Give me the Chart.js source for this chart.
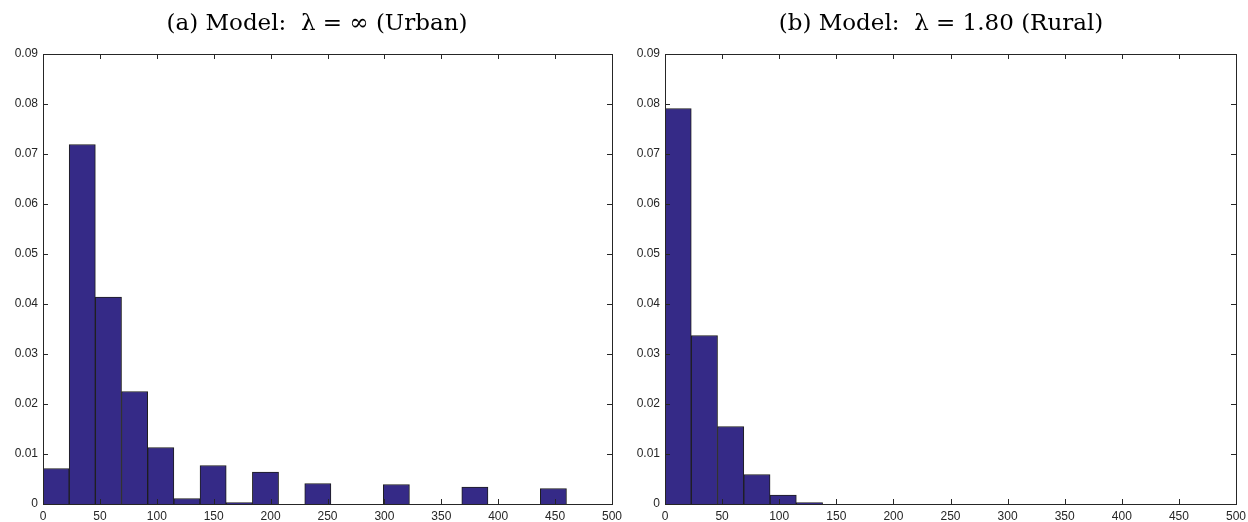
<!DOCTYPE html>
<html>
<head>
<meta charset="utf-8">
<script src="https://cdn.jsdelivr.net/npm/chart.js@4"></script>
<style>
  body { margin: 0; background: #fff; }
  #wrap { width: 1248px; height: 522px; display: flex; }
  canvas { display: block; }
</style>
</head>
<body>
<div id="wrap">
  <canvas id="urban" width="624" height="522"></canvas>
  <canvas id="rural" width="624" height="522"></canvas>
</div>
<script>
// histogram bins, width 23, centres
const binCenters = [11.5, 34.5, 57.5, 80.5, 103.5, 126.5, 149.5, 172.5, 195.5, 218.5,
                    241.5, 264.5, 287.5, 310.5, 333.5, 356.5, 379.5, 402.5, 425.5, 448.5];
const urbanValues = [0.0071, 0.0719, 0.0414, 0.0225, 0.0113, 0.0011, 0.0077, 0.0003, 0.0064, 0,
                     0.0041, 0, 0, 0.0039, 0, 0, 0.0034, 0, 0, 0.0031];
const ruralValues = [0.0791, 0.0337, 0.0155, 0.0059, 0.0018, 0.0003, 0, 0, 0, 0,
                     0, 0, 0, 0, 0, 0, 0, 0, 0, 0];
const xTicks = [0, 50, 100, 150, 200, 250, 300, 350, 400, 450, 500];
const yTicks = [0, 0.01, 0.02, 0.03, 0.04, 0.05, 0.06, 0.07, 0.08, 0.09];
const titles = ['(a) Model:  \u03BB = \u221E (Urban)', '(b) Model:  \u03BB = 1.80 (Rural)'];

const axisColor = '#262626';

// MATLAB style box with inward ticks on all four sides
const boxTicks = {
    id: 'boxTicks',
    afterLayout(chart) {
        // nudge the title over the plot area like the original figure
        if (chart.titleBlock) {
            chart.titleBlock.left += 11;
            chart.titleBlock.right += 11;
        }
    },
    afterDraw(chart) {
        const ctx = chart.ctx;
        const a = chart.chartArea;
        const xs = chart.scales.x, ys = chart.scales.y;
        const len = 5;
        ctx.save();
        ctx.strokeStyle = axisColor;
        ctx.lineWidth = 1;
        ctx.beginPath();
        xTicks.forEach(v => {
            const px = Math.round(xs.getPixelForValue(v)) + 0.5;
            ctx.moveTo(px, a.bottom); ctx.lineTo(px, a.bottom - len);
            ctx.moveTo(px, a.top); ctx.lineTo(px, a.top + len);
        });
        yTicks.forEach(v => {
            const py = Math.round(ys.getPixelForValue(v)) + 0.5;
            ctx.moveTo(a.left, py); ctx.lineTo(a.left + len, py);
            ctx.moveTo(a.right, py); ctx.lineTo(a.right - len, py);
        });
        ctx.stroke();
        ctx.strokeRect(Math.round(a.left) + 0.5, Math.round(a.top) + 0.5,
                       Math.round(a.right - a.left), Math.round(a.bottom - a.top));
        ctx.restore();
    }
};

function makeChart(id, values, title, yWidth) {
    return new Chart(document.getElementById(id), {
        type: 'bar',
        data: {
            datasets: [{
                data: binCenters.map((c, i) => ({ x: c, y: values[i] })),
                backgroundColor: '#352a87',
                borderColor: '#1e1e1e',
                borderWidth: 1,
                barPercentage: 1,
                categoryPercentage: 1,
                borderSkipped: 'bottom',
            }],
        },
        options: {
            responsive: false,
            animation: false,
            layout: { padding: { left: 0, right: 12, bottom: 0 } },
            plugins: {
                legend: { display: false },
                tooltip: { enabled: false },
                title: {
                    display: true,
                    text: title,
                    color: '#000',
                    font: { family: 'DejaVu Serif', size: 23, weight: 'normal' },
                    padding: { top: 10, bottom: 16.4 },
                },
            },
            scales: {
                x: {
                    type: 'linear',
                    min: 0, max: 500,
                    offset: false,
                    grid: { display: false, drawTicks: false },
                    border: { display: false },
                    ticks: {
                        stepSize: 50,
                        padding: 5,
                        maxRotation: 0,
                        color: axisColor,
                        font: { family: 'Liberation Sans', size: 12 },
                    },
                    afterFit(s) {
                        s.height = 18;
                        s.paddingLeft = 0;
                        s.paddingRight = 0;
                    },
                },
                y: {
                    min: 0, max: 0.09,
                    grid: { display: false, drawTicks: false },
                    border: { display: false },
                    ticks: {
                        stepSize: 0.01,
                        padding: 5,
                        color: axisColor,
                        font: { family: 'Liberation Sans', size: 12 },
                        callback: v => v === 0 ? '0' : (+v).toFixed(2),
                    },
                    afterFit(s) { s.width = yWidth; },
                },
            },
        },
        plugins: [boxTicks],
    });
}

makeChart('urban', urbanValues, titles[0], 43);
makeChart('rural', ruralValues, titles[1], 41);
</script>
</body>
</html>
